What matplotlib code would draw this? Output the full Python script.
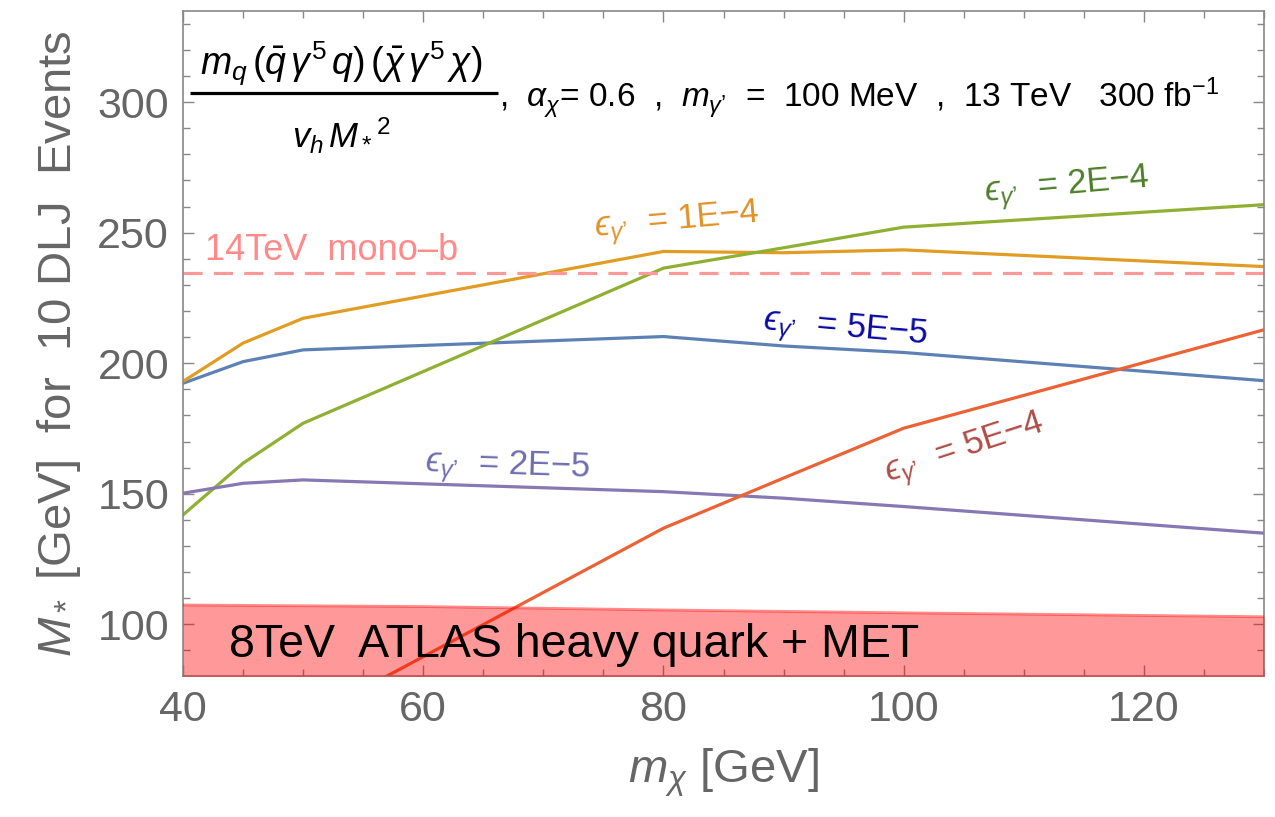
import matplotlib
matplotlib.use('Agg')
import matplotlib.pyplot as plt
from matplotlib.ticker import MultipleLocator

plt.rcParams['font.family'] = ['Liberation Sans', 'DejaVu Sans']
plt.rcParams['mathtext.fontset'] = 'custom'
plt.rcParams['mathtext.rm'] = 'Liberation Sans'
plt.rcParams['mathtext.it'] = 'Liberation Sans:italic'
plt.rcParams['mathtext.bf'] = 'Liberation Sans:bold'
plt.rcParams['mathtext.fallback'] = 'stixsans'

# ---- data ----
mchi = [40, 45, 50, 80, 90, 100, 130]
eps_5e5 = [192.3, 200.6, 205.1, 210.2, 206.6, 204.1, 193.3]
eps_1e4 = [193.0, 207.7, 217.2, 242.8, 242.3, 243.4, 237.0]
eps_2e4 = [141.9, 161.7, 177.0, 236.4, 244.2, 252.1, 260.7]
eps_2e5 = [150.2, 154.0, 155.3, 150.8, 148.3, 145.1, 134.9]
mchi_5e4 = [50, 80, 90, 100, 130]
eps_5e4 = [63.0, 136.8, 156.0, 175.1, 212.8]

mono_b_14tev = 234.7
atlas_mchi = [40, 60, 80, 100, 130]
atlas_8tev = [107.4, 106.8, 105.5, 104.4, 102.9]

xticks = [40, 60, 80, 100, 120]
yticks = [100, 150, 200, 250, 300]

c_blue = '#5E81B5'
c_orange = '#E19C24'
c_green = '#8FB032'
c_red = '#EB6235'
c_purple = '#8778B3'
gray = '#666666'

fig = plt.figure(figsize=(12.75, 8.17), dpi=100)
ax = fig.add_axes([183/1275, 1-676/817, (1264-183)/1275, (676-10.7)/817])

lw = 2.3
ax.plot(mchi, eps_5e5, color=c_blue, lw=lw)
ax.plot(mchi, eps_1e4, color=c_orange, lw=lw)
ax.plot(mchi, eps_2e4, color=c_green, lw=lw)
ax.plot(mchi, eps_2e5, color=c_purple, lw=lw)
ax.plot(mchi_5e4, eps_5e4, color=c_red, lw=lw)

ax.axhline(mono_b_14tev, color='#FF9999', lw=2.3, dashes=(6, 3.5))

ax.fill_between(atlas_mchi, 0, atlas_8tev, color='#FF0000', alpha=0.4, lw=0, zorder=5)
ax.plot(atlas_mchi, atlas_8tev, color='#FF0000', alpha=0.45, lw=2.0, zorder=5)

ax.set_xlim(40, 130)
ax.set_ylim(80.2, 335)

ax.set_xticks(xticks)
ax.set_yticks(yticks)
ax.xaxis.set_minor_locator(MultipleLocator(5))
ax.yaxis.set_minor_locator(MultipleLocator(10))
ax.tick_params(which='both', direction='in', top=True, right=True, color='#888888', width=1.0)
ax.tick_params(which='major', length=8, labelsize=31, labelcolor=gray, pad=10)
ax.tick_params(which='minor', length=5)
for s in ax.spines.values():
    s.set_color('#888888')
    s.set_linewidth(1.2)

ax.set_xlabel(r"$m_\chi$ [GeV]", fontsize=34, color=gray, labelpad=12)
ax.set_ylabel(r"$M_*$ [GeV]  for  10 DLJ  Events", fontsize=34, color=gray, labelpad=10)

# curve labels
lab_fs = 25
eps = "$\u03f5_{\\gamma\u2019}$"
ax.text(81.1, 254.0, eps + "  = 1E\u22124", color='#E0922A', fontsize=lab_fs,
        rotation=5, ha='center', va='center')
ax.text(113.6, 267.5, eps + "  = 2E\u22124", color='#4F7F2A', fontsize=lab_fs,
        rotation=5, ha='center', va='center')
ax.text(95.1, 212.8, eps + "  = 5E\u22125", color='#0A0AA0', fontsize=lab_fs,
        rotation=-5, ha='center', va='center')
ax.text(105.1, 166.8, eps + "  = 5E\u22124", color='#B04E48', fontsize=lab_fs,
        rotation=18, ha='center', va='center')
ax.text(67.0, 160.0, eps + "  = 2E\u22125", color='#6E6EB0', fontsize=lab_fs,
        rotation=-2, ha='center', va='center')
ax.text(41.8, 243.0, "14TeV  mono\u2013b", color='#FF8A8A', fontsize=26,
        ha='left', va='center')
ax.text(72.6, 92.0, "8TeV  ATLAS heavy quark + MET", color='black', fontsize=33.5,
        ha='center', va='center', zorder=6)

# title (fraction + parameters)
ax.text(53.2, 314.5, r"$m_q\,(\bar{q}\,\gamma^5\,q)\,(\bar{\chi}\,\gamma^5\,\chi)$",
        fontsize=27, ha='center', va='center')
ax.plot([40.6, 66.2], [303.5, 303.5], color='black', lw=2.3, solid_capstyle='butt')
ax.text(53.2, 287.0, r"$v_h\,M_*{}^2$", fontsize=25, ha='center', va='center')
ax.text(66.3, 301.5,
        ",  $\\alpha_\\chi$= 0.6  ,  $m_{\\gamma\u2019}$  =  100 MeV  ,  13 TeV   300 fb$^{-1}$",
        fontsize=24, ha='left', va='center')

fig.savefig('out.png', dpi=100)
